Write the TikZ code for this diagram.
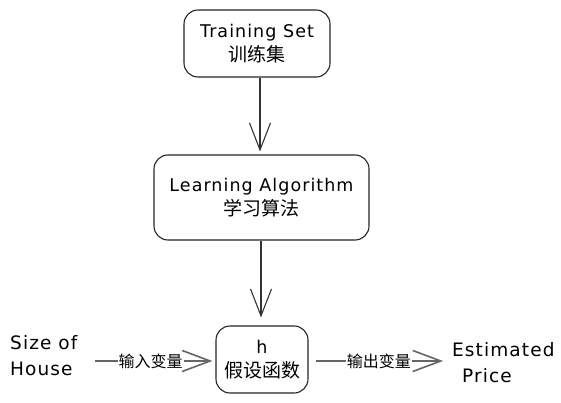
\documentclass[tikz,border=0pt]{standalone}
\usepackage{fontspec}
\setmainfont[LetterSpace=6]{DejaVu Sans}
\newfontfamily\cjk{Noto Sans CJK SC}
\usetikzlibrary{arrows.meta}
\begin{document}
\begin{tikzpicture}[x=1pt,y=-1pt,
  box/.style={draw=black!85,line width=1.1pt,rounded corners=14pt,align=center,inner sep=0pt,
    font=\fontsize{17.5}{24}\selectfont},
  flow/.style={draw=black!80,line width=1.1pt,-{Straight Barb[length=27pt,width=21pt,line width=1.1pt]}},
  hflow/.style={draw=black!60,line width=1.8pt,-{Straight Barb[length=28pt,width=21pt,line width=1.6pt]}},
  lbl/.style={fill=white,inner sep=1pt,font=\cjk\fontsize{16}{18}\selectfont},
  side/.style={align=left,inner sep=0pt,font=\fontsize{18.5}{26}\selectfont}]
\useasboundingbox (0,0) rectangle (561,403);
\fill[white] (0,0) rectangle (561,403);
\newcommand\zh[1]{{\cjk\fontsize{19}{24}\selectfont #1}}
\node[box,minimum width=146pt,minimum height=67pt] (ts) at (257,43.5) {Training Set\\\zh{训练集}};
\node[box,minimum width=215pt,minimum height=85pt] (la) at (261.5,197.5) {Learning Algorithm\\\zh{学习算法}};
\node[box,minimum width=92pt,minimum height=67pt] (h) at (262,359.5) {h\\\zh{假设函数}};
\node[side,anchor=west] (size) at (10,356) {Size of\\House};
\node[side,anchor=west,align=left] (price) at (452,363) {Estimated\\\hspace{10pt}Price};
\draw[flow,shorten >=3pt] (ts.south -| 260,0) -- (la.north -| 260,0);
\draw[flow,shorten >=8pt] (la.south -| 261,0) -- (h.north -| 261,0);
\draw[hflow,shorten <=17pt,shorten >=3pt] (size.east |- 0,361) -- node[lbl,pos=0.53] (in) {输入变量} (h.west |- 0,361);
\draw[hflow,shorten <=7pt,shorten >=9pt] (h.east |- 0,361) -- node[lbl,pos=0.49] (out) {输出变量} (price.west |- 0,361);
\end{tikzpicture}
\end{document}
